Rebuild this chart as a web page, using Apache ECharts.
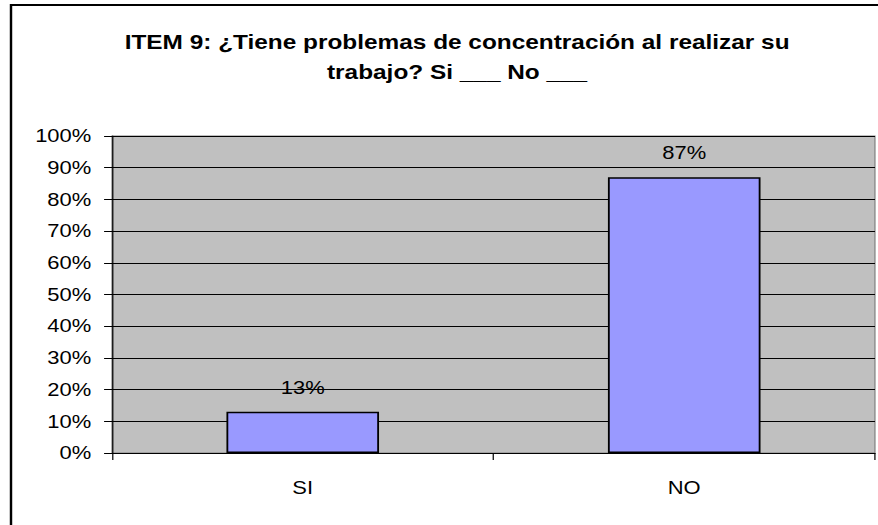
<!DOCTYPE html>
<html>
<head>
<meta charset="utf-8">
<script src="https://cdn.jsdelivr.net/npm/echarts@6/dist/echarts.min.js"></script>
<style>
    html, body { margin: 0; padding: 0; background: #fff; overflow: hidden; }
    /* the original picture is stretched sideways, so the chart is drawn narrower and widened */
    #main { width: 720px; height: 525px; transform: scaleX(1.2194); transform-origin: 0 0; }
</style>
</head>
<body>
<div id="main"></div>
<script>
// datos del gráfico
let categories = ['SI', 'NO'];
let percents = [13, 87];
let yTicks = [0, 10, 20, 30, 40, 50, 60, 70, 80, 90, 100];
let titleLines = ['ITEM 9: ¿Tiene problemas de concentración al realizar su', 'trabajo? Si ___ No ___'];

var myChart = echarts.init(document.getElementById('main'), null, { renderer: 'svg' });

var font = 'Liberation Sans, Arial, sans-serif';
var sx = 1.2194; // horizontal stretch

option = {
    backgroundColor: '#fff',
    animation: false,
    title: {
        text: titleLines.join('\n'),
        left: 451 / sx,
        top: 22,
        textAlign: 'center',
        textStyle: {
            fontFamily: font,
            fontWeight: 'bold',
            fontSize: 20,
            lineHeight: 30,
            color: '#000'
        }
    },
    graphic: [
        {
            // marco exterior del gráfico
            type: 'rect',
            shape: { x: 11 / sx, y: 5, width: 900, height: 600 },
            style: { fill: 'none', stroke: '#000', lineWidth: 2 },
            silent: true
        }
    ],
    grid: {
        left: 112 / sx,
        top: 136,
        right: 3 / sx,
        bottom: 72,
        show: true,
        backgroundColor: '#C0C0C0',
        borderColor: '#808080',
        borderWidth: 1
    },
    xAxis: {
        type: 'category',
        data: categories,
        axisLine: { lineStyle: { color: '#000', width: 1 } },
        axisTick: { show: true, alignWithLabel: false, length: 7, lineStyle: { color: '#000' } },
        axisLabel: {
            margin: 26,
            fontFamily: font,
            fontSize: 18,
            color: '#000'
        },
        splitLine: { show: false }
    },
    yAxis: {
        type: 'value',
        min: yTicks[0],
        max: yTicks[yTicks.length - 1],
        interval: 10,
        axisLine: { show: true, lineStyle: { color: '#000', width: 1 } },
        axisTick: { show: true, length: 6.5, lineStyle: { color: '#000' } },
        axisLabel: {
            margin: 17,
            fontFamily: font,
            fontSize: 18,
            color: '#000',
            formatter: '{value}%'
        },
        splitLine: { show: true, lineStyle: { color: '#000', width: 1 } }
    },
    series: [
        {
            type: 'bar',
            data: percents,
            barWidth: '40%',
            itemStyle: {
                color: '#9999FF',
                borderColor: '#000',
                borderWidth: 1.5
            },
            label: {
                show: true,
                position: 'top',
                distance: 15,
                formatter: '{c}%',
                fontFamily: font,
                fontSize: 18,
                color: '#000'
            }
        }
    ]
};

myChart.setOption(option);
</script>
</body>
</html>
